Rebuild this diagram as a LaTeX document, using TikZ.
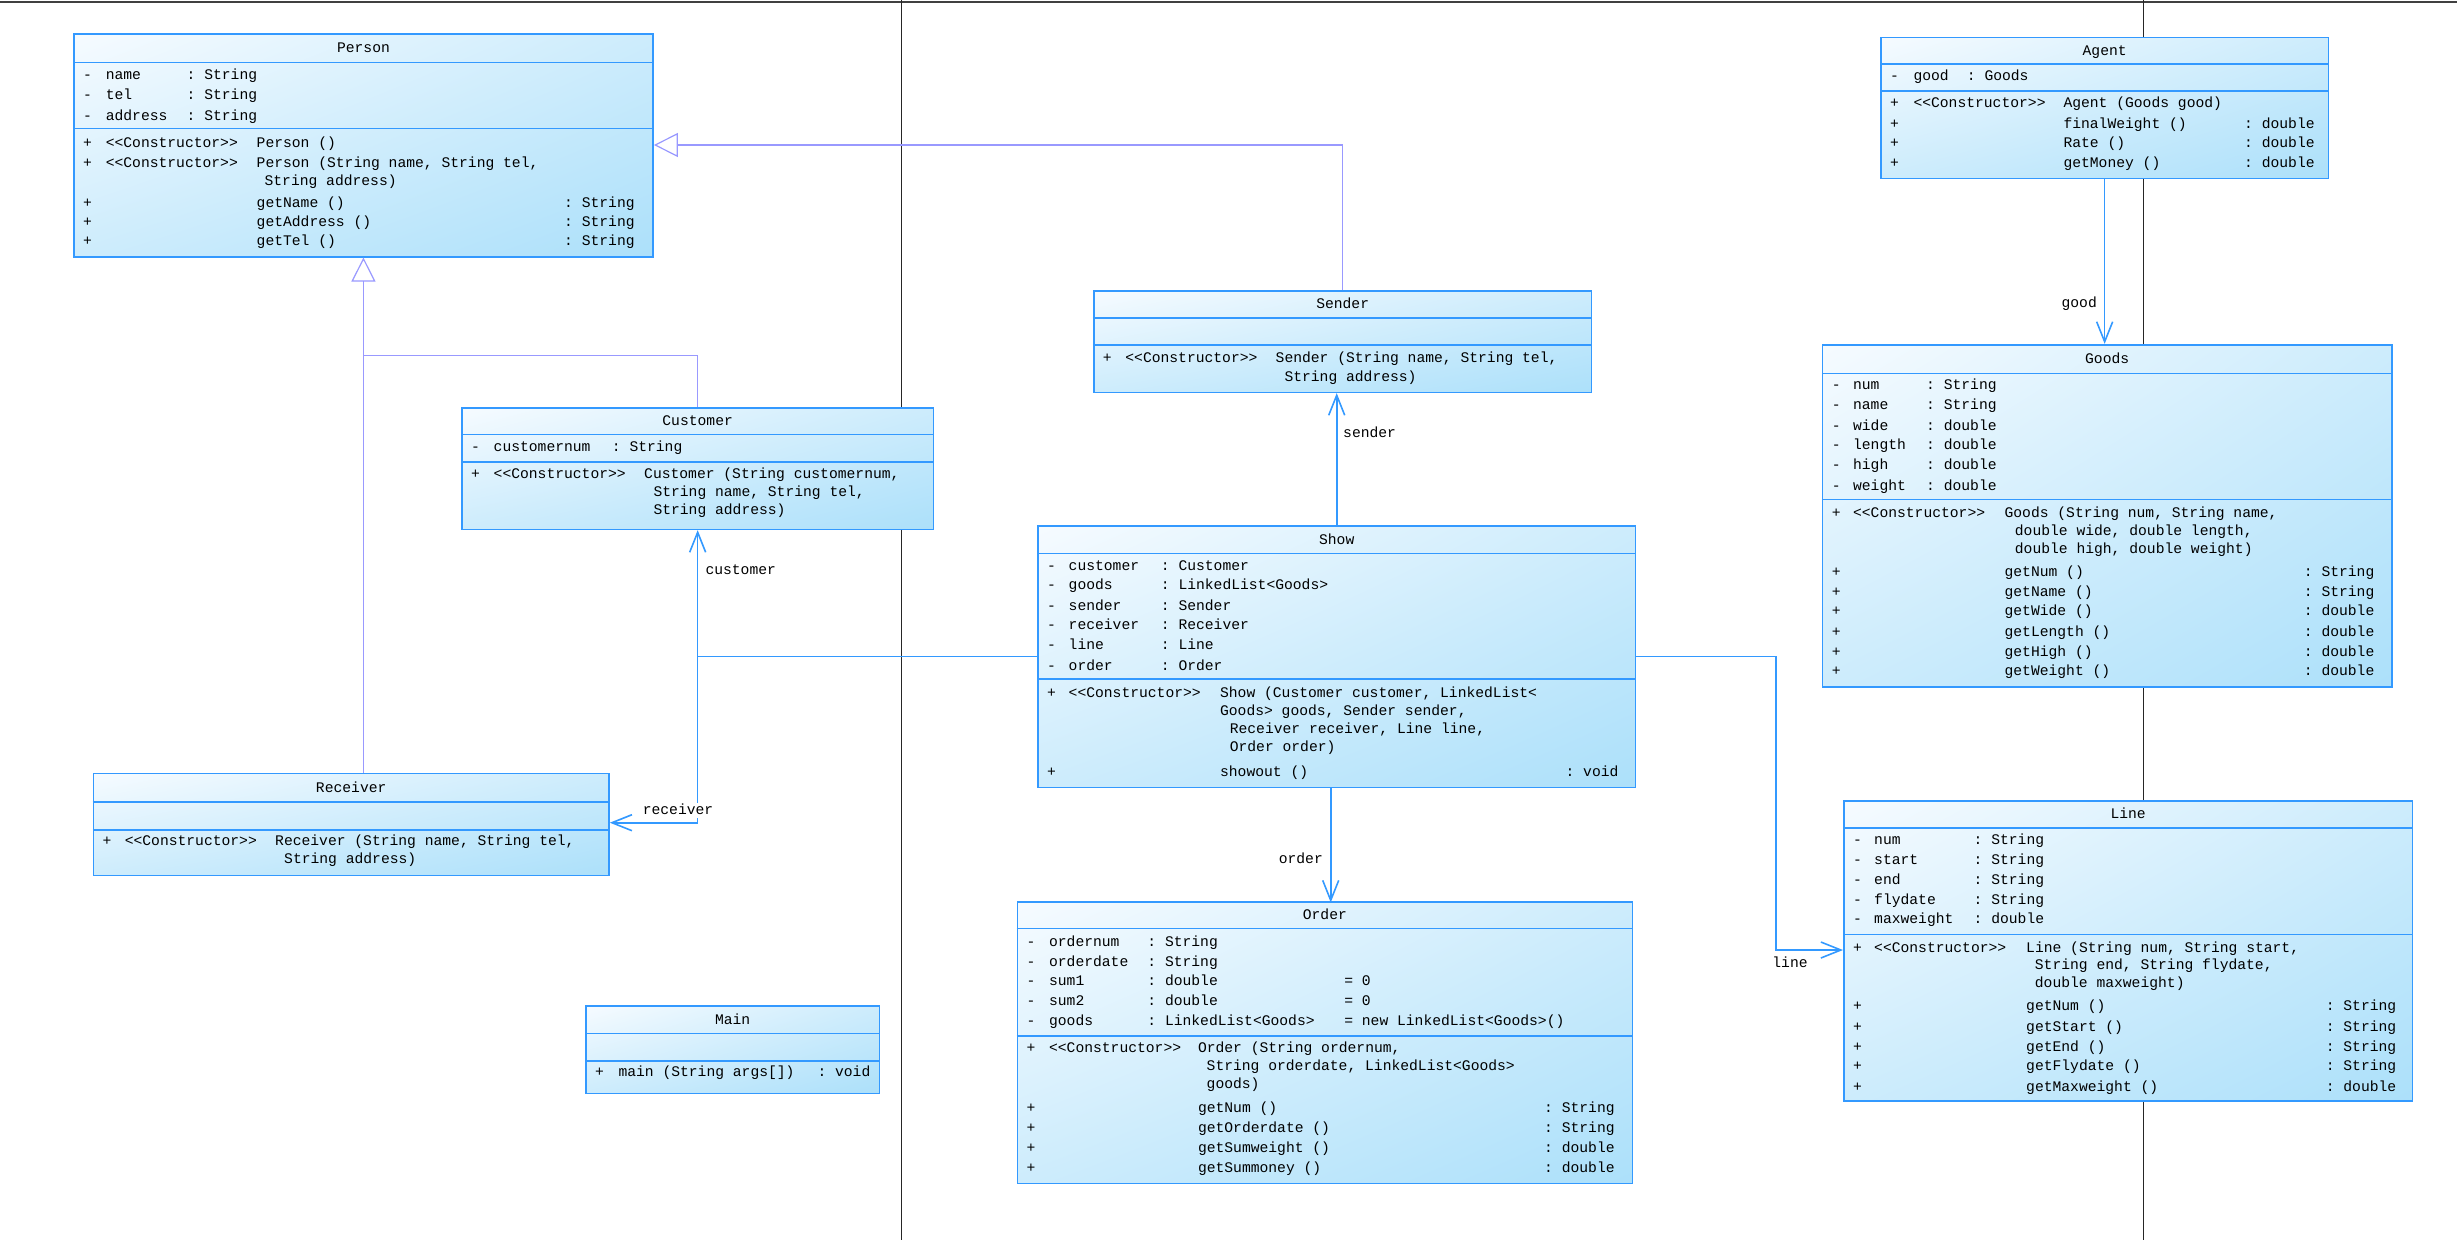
\documentclass[tikz,border=0pt]{standalone}
\usepackage{fontspec}
\setmonofont{Liberation Mono}
\usetikzlibrary{arrows.meta,fit,shadings}
\definecolor{umlb}{RGB}{51,153,255}
\definecolor{inhc}{RGB}{153,153,255}
\definecolor{cUL}{RGB}{246,251,255}
\definecolor{cUR}{RGB}{205,236,252}
\definecolor{cLL}{RGB}{205,236,252}
\definecolor{cLR}{RGB}{172,224,250}
\newcommand\umlfont{\fontsize{14.67pt}{18pt}\selectfont\ttfamily}
\tikzset{
 txt/.style={anchor=west, inner sep=0pt, text height=10pt, text depth=1pt, font=\umlfont},
 ttl/.style={txt, anchor=center},
 lbl/.style={txt, inner sep=2pt},
 clsbox/.style={draw=umlb, line width=1.6pt, inner sep=0pt,
   upper left=cUL, upper right=cUR, lower left=cLL, lower right=cLR},
 clsline/.style={draw=umlb, line width=1.6pt},
 asc/.style={draw=umlb, line width=1.6pt, -{Straight Barb[length=20pt,width=16pt]}},
 inhl/.style={draw=inhc, line width=1.2pt},
 inhtip/.style={-{Triangle[open,length=24pt,width=24pt]}},
}
\newcounter{tn}
\newcommand\umltx[3]{\stepcounter{tn}\node[txt] (t\the\value{tn}) at (#1,#2) {#3};}
\newcommand\atr[3]{\umltx{\Xs}{#1}{-}\umltx{\Xn}{#1}{#2}\umltx{\Xc}{#1}{: #3}}
\newcommand\atd[4]{\atr{#1}{#2}{#3}\umltx{\Xd}{#1}{= #4}}
\newcommand\mcon[2]{\umltx{\Xs}{#1}{+}\umltx{\Xn}{#1}{<<Constructor>>}\umltx{\Xm}{#1}{#2}}
\newcommand\mcnt[2]{\umltx{\Xk}{#1}{#2}}
\newcommand\mret[3]{\umltx{\Xs}{#1}{+}\umltx{\Xm}{#1}{#2}\umltx{\Xr}{#1}{: #3}}
\newcommand\umlbox[8]{%
 \node[clsbox, fit={(#3,#4) (#5,#6)}] (#1) {};
 \draw[clsline] (#1.west |- 0,#7) -- (#1.east |- 0,#7);
 \draw[clsline] (#1.west |- 0,#8) -- (#1.east |- 0,#8);
 \node[ttl] (#1T) at (#1.north |- 0,{(#4+#7)/2}) {#2};
}
\begin{document}
\begin{tikzpicture}[x=1pt,y=-1pt]
\useasboundingbox (0,0) rectangle (2457,1240);
\fill[white] (0,0) rectangle (2457,1240);
% frame lines
\draw[black!75, line width=2.5pt] (0,2) -- (2457,2);
\draw[black!85, line width=1.5pt] (901.7,0) -- (901.7,1240);
\draw[black!85, line width=1.5pt] (2143.3,0) -- (2143.3,1240);

% Person
\umlbox{person}{Person}{73.8}{34}{653.1}{256.7}{62.3}{128.3}
\def\Xs{82.8}\def\Xn{105.6}\def\Xc{186.5}\def\Xm{256.5}\def\Xk{264.4}\def\Xr{564}
\atr{75}{name}{String}
\atr{95.3}{tel}{String}
\atr{115.6}{address}{String}
\mcon{142.7}{Person ()}
\mcon{162.7}{Person (String name, String tel,}
\mcnt{180.7}{String address)}
\mret{202.7}{getName ()}{String}
\mret{222}{getAddress ()}{String}
\mret{240.7}{getTel ()}{String}

% Sender
\umlbox{sender}{Sender}{1093.7}{290.7}{1591.6}{392.3}{317.7}{345}
\def\Xs{1102.7}\def\Xn{1125.2}\def\Xm{1275.5}\def\Xk{1284.3}
\mcon{358}{Sender (String name, String tel,}
\mcnt{376.7}{String address)}

% Customer
\umlbox{customer}{Customer}{462}{407.7}{933.3}{529.3}{434.3}{461.7}
\def\Xs{471}\def\Xn{493.5}\def\Xc{611.7}\def\Xm{644}\def\Xk{653.3}
\atr{447.3}{customernum}{String}
\mcon{474}{Customer (String customernum,}
\mcnt{492}{String name, String tel,}
\mcnt{510}{String address)}

% Show
\umlbox{show}{Show}{1037.9}{526}{1635.5}{787.3}{553.3}{679}
\def\Xs{1047}\def\Xn{1068.5}\def\Xc{1160.7}\def\Xm{1219.9}\def\Xk{1229.6}\def\Xr{1565.4}
\atr{565.7}{customer}{Customer}
\atr{585.3}{goods}{LinkedList<Goods>}
\atr{605.7}{sender}{Sender}
\atr{625.3}{receiver}{Receiver}
\atr{645.3}{line}{Line}
\atr{665.7}{order}{Order}
\mcon{692.7}{Show (Customer customer, LinkedList<}
\umltx{\Xm}{710.7}{Goods> goods, Sender sender,}
\mcnt{728.7}{Receiver receiver, Line line,}
\mcnt{746.7}{Order order)}
\mret{771.7}{showout ()}{void}

% Receiver
\umlbox{receiver}{Receiver}{93.4}{773.5}{609}{875.5}{802}{829.8}
\def\Xs{102.4}\def\Xn{124.6}\def\Xm{275}\def\Xk{284}
\mcon{840.8}{Receiver (String name, String tel,}
\mcnt{859.2}{String address)}

% Order
\umlbox{order}{Order}{1017.4}{901.7}{1632.3}{1183.3}{928.3}{1035.7}
\def\Xs{1026.4}\def\Xn{1048.9}\def\Xc{1147.2}\def\Xd{1344.1}\def\Xm{1197.8}\def\Xk{1206.5}\def\Xr{1544}
\atr{942.3}{ordernum}{String}
\atr{961.7}{orderdate}{String}
\atd{981}{sum1}{double}{0}
\atd{1001}{sum2}{double}{0}
\atd{1021.3}{goods}{LinkedList<Goods>}{new LinkedList<Goods>()}
\mcon{1048.3}{Order (String ordernum,}
\mcnt{1066}{String orderdate, LinkedList<Goods>}
\mcnt{1084}{goods)}
\mret{1108.3}{getNum ()}{String}
\mret{1127.7}{getOrderdate ()}{String}
\mret{1148.3}{getSumweight ()}{double}
\mret{1168}{getSummoney ()}{double}

% Main
\umlbox{main}{Main}{586}{1005.7}{879.3}{1093.3}{1033.3}{1060.7}
\def\Xs{595}\def\Xm{618.3}\def\Xr{817.3}
\mret{1071.7}{main (String args[])}{void}

% Agent
\umlbox{agent}{Agent}{1881}{37.3}{2328.3}{178.3}{64}{91}
\def\Xs{1890}\def\Xn{1913.3}\def\Xc{1966.7}\def\Xm{2063.3}\def\Xr{2244}
\atr{76}{good}{Goods}
\mcon{103.3}{Agent (Goods good)}
\mret{124}{finalWeight ()}{double}
\mret{143.3}{Rate ()}{double}
\mret{163.3}{getMoney ()}{double}

% Goods
\umlbox{goods}{Goods}{1822.6}{344.7}{2391.7}{686.7}{373.3}{499.3}
\def\Xs{1831.6}\def\Xn{1852.9}\def\Xc{1926}\def\Xm{2004.4}\def\Xk{2014.7}\def\Xr{2303.7}
\atr{385}{num}{String}
\atr{405}{name}{String}
\atr{425.7}{wide}{double}
\atr{445.3}{length}{double}
\atr{465}{high}{double}
\atr{485.7}{weight}{double}
\mcon{512.7}{Goods (String num, String name,}
\mcnt{531}{double wide, double length,}
\mcnt{548.7}{double high, double weight)}
\mret{572.3}{getNum ()}{String}
\mret{591.7}{getName ()}{String}
\mret{611.3}{getWide ()}{double}
\mret{632}{getLength ()}{double}
\mret{651.7}{getHigh ()}{double}
\mret{671}{getWeight ()}{double}

% Line
\umlbox{line}{Line}{1843.8}{800.7}{2412.5}{1100.7}{827.7}{934.3}
\def\Xs{1852.8}\def\Xn{1874}\def\Xc{1973.5}\def\Xm{2026}\def\Xk{2034.7}\def\Xr{2325.6}
\atr{840}{num}{String}
\atr{859.7}{start}{String}
\atr{880}{end}{String}
\atr{900}{flydate}{String}
\atr{919.3}{maxweight}{double}
\mcon{947.7}{Line (String num, String start,}
\mcnt{965.3}{String end, String flydate,}
\mcnt{983}{double maxweight)}
\mret{1006}{getNum ()}{String}
\mret{1027}{getStart ()}{String}
\mret{1046.7}{getEnd ()}{String}
\mret{1066}{getFlydate ()}{String}
\mret{1087}{getMaxweight ()}{double}

% generalizations
\draw[inhl,inhtip] (sender.north) |- (person.east |- 0,145);
\draw[inhl,inhtip] (receiver.north -| person.south) -- (person.south);
\draw[inhl] (customer.north) |- (person.south |- 0,355.5);

% associations
\draw[asc] (show.north) -- (show.north |- sender.south);
\draw[asc] (show.west) -| (customer.south);
\draw[asc] (show.west) -| (customer.south |- 0,822.7) -- (receiver.east |- 0,822.7);
\draw[asc] ([xshift=-6pt]show.south) -- ++(0,114.4);
\draw[asc] (show.east) -| (1776.1,950) -- (line.west |- 0,950);
\draw[asc] (agent.south) -- (agent.south |- goods.north);

% labels
\node[lbl, anchor=west] (lsender) at (1341,433.3) {sender};
\node[lbl, anchor=west] (lcustomer) at (703.3,570) {customer};
\node[lbl, anchor=center, fill=white] (lreceiver) at (678,810) {receiver};
\node[lbl, anchor=east] (lorder) at (1325,859.3) {order};
\node[lbl, anchor=center] (lline) at (1790,962.7) {line};
\node[lbl, anchor=east] (lgood) at (2099,303.3) {good};
\end{tikzpicture}
\end{document}
